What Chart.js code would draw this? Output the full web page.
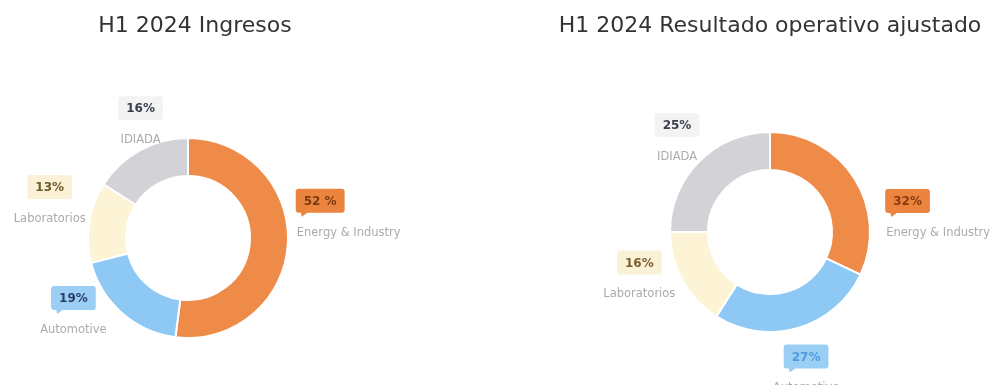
<!DOCTYPE html>
<html><head><meta charset="utf-8">
<script src="https://cdn.jsdelivr.net/npm/chart.js@4"></script>
<style>
html,body{margin:0;padding:0;background:#fff;width:996px;height:385px;overflow:hidden;position:relative;}
.c{position:absolute;top:0;height:385px;}
#w1{left:0;width:498px;}
#w2{left:544px;width:452px;}
.t{position:absolute;top:14px;height:22px;line-height:22px;font-family:"DejaVu Sans";font-size:22px;color:#333333;text-align:center;white-space:nowrap;}
#t1{left:0;width:390px;}
#t2{left:544px;width:452px;}
</style></head><body>
<div class="c" id="w1"><canvas id="c1"></canvas></div>
<div class="c" id="w2"><canvas id="c2"></canvas></div>
<div class="t" id="t1"></div>
<div class="t" id="t2"></div>
<script>
const categories = ['Energy & Industry', 'Automotive', 'Laboratorios', 'IDIADA'];
const ingresosValues = [52, 19, 13, 16];
const ingresosLabels = ['52 %', '19%', '13%', '16%'];
const resultadoValues = [32, 27, 16, 25];
const resultadoLabels = ['32%', '27%', '16%', '25%'];
const titleIngresos = 'H1 2024 Ingresos';
const titleResultado = 'H1 2024 Resultado operativo ajustado';

const sliceColors = ['#EE8B48', '#8DC9F4', '#FCF4D4', '#D3D3D7'];
const boxColors = ['#EA843F', '#9BCEF4', '#FAF1D6', '#F3F3F3'];

document.getElementById('t1').textContent = titleIngresos;
document.getElementById('t2').textContent = titleResultado;

function roundRect(ctx, x, y, w, h, r) {
  ctx.beginPath();
  ctx.moveTo(x + r, y);
  ctx.lineTo(x + w - r, y);
  ctx.quadraticCurveTo(x + w, y, x + w, y + r);
  ctx.lineTo(x + w, y + h - r);
  ctx.quadraticCurveTo(x + w, y + h, x + w - r, y + h);
  ctx.lineTo(x + r, y + h);
  ctx.quadraticCurveTo(x, y + h, x, y + h - r);
  ctx.lineTo(x, y + r);
  ctx.quadraticCurveTo(x, y, x + r, y);
  ctx.closePath();
}

const outLabels = {
  id: 'outLabels',
  afterDatasetsDraw(chart, args, opts) {
    const ctx = chart.ctx;
    const meta = chart.getDatasetMeta(0);
    meta.data.forEach((arc, i) => {
      const p = arc.getProps(['x', 'y', 'startAngle', 'endAngle', 'outerRadius'], true);
      const mid = (p.startAngle + p.endAngle) / 2;
      const dx = Math.cos(mid), dy = Math.sin(mid);
      const r = p.outerRadius + opts.distance;
      const n = opts.nudge[i];
      const ax = p.x + dx * r + n[0];
      const ay = p.y + dy * r + n[1];
      const leftAlign = dx > 0.5;
      const pct = opts.text[i];
      ctx.save();
      ctx.font = opts.pctFont;
      const tw = ctx.measureText(pct).width;
      const bw = tw + 16, bh = 24;
      const bx = leftAlign ? ax : ax - bw / 2;
      const by = ay - 16 - bh / 2;
      ctx.fillStyle = opts.boxBg[i];
      roundRect(ctx, bx, by, bw, bh, 3);
      ctx.fill();
      if (opts.tail[i]) {
        ctx.beginPath();
        ctx.moveTo(bx + 5, by + bh - 1);
        ctx.lineTo(bx + 13, by + bh - 1);
        ctx.lineTo(bx + 6, by + bh + 4);
        ctx.closePath();
        ctx.fill();
      }
      ctx.fillStyle = opts.pctColor[i];
      ctx.textBaseline = 'middle';
      ctx.textAlign = 'center';
      ctx.fillText(pct, bx + bw / 2, by + bh / 2 + 1);
      ctx.font = opts.catFont;
      ctx.fillStyle = opts.catColor;
      ctx.textAlign = leftAlign ? 'left' : 'center';
      ctx.fillText(chart.data.labels[i], leftAlign ? ax + 1 : ax, ay + 16);
      ctx.restore();
    });
  }
};

function makeChart(id, values, pctText, pad, nudge, pctColor) {
  return new Chart(document.getElementById(id), {
    type: 'doughnut',
    data: {
      labels: categories,
      datasets: [{
        data: values,
        backgroundColor: sliceColors,
        borderColor: '#ffffff',
        borderWidth: 2,
        hoverOffset: 0
      }]
    },
    options: {
      responsive: true,
      maintainAspectRatio: false,
      animation: false,
      cutout: '62%',
      layout: { padding: pad },
      plugins: {
        legend: { display: false },
        tooltip: { enabled: false },
        title: { display: false },
        outLabels: {
          distance: 40,
          nudge: nudge,
          text: pctText,
          boxBg: boxColors,
          tail: [true, true, false, false],
          pctColor: pctColor,
          pctFont: 'bold 12px "DejaVu Sans"',
          catFont: '11.5px "DejaVu Sans"',
          catColor: '#ABABAB'
        }
      }
    },
    plugins: [outLabels]
  });
}

makeChart('c1', ingresosValues, ingresosLabels,
  { top: 137, bottom: 46, left: 0, right: 122 },
  [[-32, -30], [-22, -29], [0, -13], [20, 9]],
  ['#7A3A12', '#2C3E66', '#6E5A2C', '#3A3F4F']);

makeChart('c2', resultadoValues, resultadoLabels,
  { top: 131, bottom: 52, left: 0, right: 0 },
  [[-3, 60], [-3, 6], [-8, -21], [6, 8]],
  ['#8A3A10', '#4F9BE0', '#7A6030', '#3A3F4F']);
</script>
</body></html>
